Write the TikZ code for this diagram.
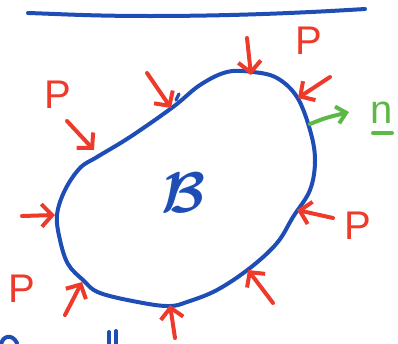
\documentclass[tikz,border=0pt]{standalone}
\usepackage{fontspec}
\usepackage{graphicx}
\setsansfont{Liberation Sans}
\usetikzlibrary{arrows.meta}
\definecolor{inkblue}{HTML}{1D4DB5}
\definecolor{inkred}{HTML}{EE3A2B}
\definecolor{inkgreen}{HTML}{5DB847}
\begin{document}
\begin{tikzpicture}[x=0.75pt,y=-0.75pt, line cap=round, line join=round,
  blob/.style={draw=inkblue, line width=3pt},
  force/.style={draw=inkred, line width=3pt, -{Straight Barb[length=8pt,width=17pt,line width=3pt]}},
  normal/.style={draw=inkgreen, line width=3pt, -{Straight Barb[length=7pt,width=13pt,line width=3pt]}},
  plabel/.style={text=inkred, font=\sffamily\fontsize{30}{30}\selectfont, inner sep=0pt},
  blabel/.style={text=inkblue, inner sep=0pt},
  nlabel/.style={text=inkgreen, font=\sffamily\fontsize{30}{30}\selectfont, inner sep=0pt}]
\useasboundingbox (0,0) rectangle (398,343);
% top line
\draw[blob] (28,13) .. controls (60,14) and (90,16) .. (150,16) .. controls (230,16) and (300,13) .. (365,9);
% body
\draw[blob] plot[smooth cycle, tension=0.6] coordinates {
 (253,72) (277,78) (297,97) (310,130) (315,160) (310,190) (293,217) (277,243)
 (250,268) (217,290) (187,302) (170,306) (143,303) (100,293) (83,280) (68,264)
 (60,240) (57,215) (65,190) (80,168) (97,157) (130,137) (173,107) (200,85) (227,72)};
\draw[blob, line width=2.5pt] (176,100) -- (179,94);
% forces
\coordinate (t1) at (247,38);  \coordinate (h1) at (251,75);
\coordinate (t2) at (147,73);  \coordinate (h2) at (171,108);
\coordinate (t3) at (67,121);  \coordinate (h3) at (94,150);
\coordinate (t4) at (22,216);  \coordinate (h4) at (55,215);
\coordinate (t5) at (65,315);  \coordinate (h5) at (82,282);
\coordinate (t6) at (175,338); \coordinate (h6) at (170,305);
\coordinate (t7) at (273,303); \coordinate (h7) at (248,270);
\coordinate (t8) at (333,218); \coordinate (h8) at (297,210);
\coordinate (t9) at (330,77);  \coordinate (h9) at (298,98);
\foreach \i in {1,...,9} \draw[force] (t\i) -- (h\i);
% normal
\coordinate (nt) at (310,124); \coordinate (nh) at (349,112);
\draw[normal] (nt) .. controls (325,118) .. (nh);
\node[nlabel] (n) at (382,113) {n};
\draw[draw=inkgreen, line width=3pt] (373,133) -- (392,133);
% labels
\node[plabel] (p1) at (309,41) {P};
\node[plabel] (p2) at (58,95) {P};
\node[plabel] (p3) at (358,226) {P};
\node[plabel] (p4) at (22,289) {P};
\node[blabel] (b) at (184,193) {\scalebox{4.3}{\boldmath$\mathcal{B}$}};
% cut-off marks at bottom
\draw[blob] (1,345) .. controls (2,336) and (12,333) .. (17,343);
\draw[blob] (109,332) -- (109,345);
\draw[blob] (116,331) -- (116,345);
\end{tikzpicture}
\end{document}
